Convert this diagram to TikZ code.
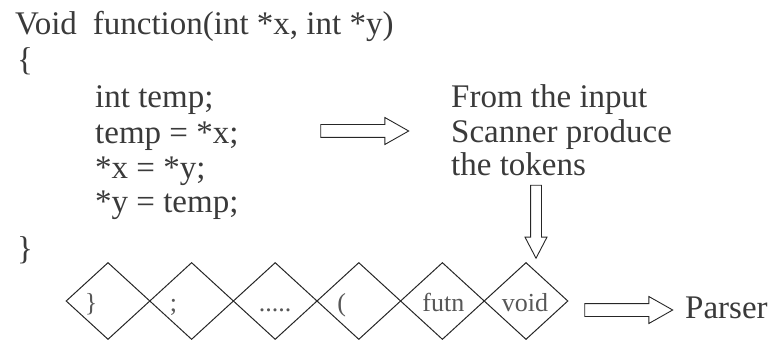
\documentclass[tikz,border=0pt]{standalone}
\usepackage{fontspec}
\setmainfont{Liberation Serif}
\usetikzlibrary{shapes.geometric,shapes.arrows}
\definecolor{ink}{HTML}{3A3A3A}
\tikzset{
  code/.style={anchor=base west,inner sep=0pt,text=ink,font=\fontsize{33}{35}\selectfont},
  tok/.style={diamond,draw=black!85,line width=1pt,minimum width=84pt,minimum height=77pt,inner sep=0pt},
  toktext/.style={anchor=base,inner sep=0pt,text=ink!85,font=\fontsize{26}{28}\selectfont},
  blockarrow/.style={single arrow,draw=black!85,line width=0.9pt,inner sep=0pt,
    inner ysep=6pt,single arrow head extend=7pt,single arrow tip angle=59}
}
\begin{document}
\begin{tikzpicture}[x=1pt,y=-1pt]
  \useasboundingbox (0,0) rectangle (770,344);
  % the source code
  \node[code] (sig) at (15,35) {Void\hspace{16pt}function(int *x, int *y)};
  \node[code] (lbrace) at (17,71) {\{};
  \node[code] (l1) at (95,108) {int temp;};
  \node[code] (l2) at (95,144) {temp = *x;};
  \node[code] (l3) at (95,179) {*x = *y;};
  \node[code] (l4) at (95,213) {*y = temp;};
  \node[code] (rbrace) at (17,260) {\}};
  % scanner note
  \node[code] (s1) at (451,108) {From the input};
  \node[code] (s2) at (451,143) {Scanner produce};
  \node[code] (s3) at (451,176) {the tokens};
  % block arrows
  \node[blockarrow,minimum height=88pt] (scanarrow) at (359,131) {};
  \node[blockarrow,minimum height=73pt,rotate=-90,inner ysep=5pt,
    single arrow head extend=5.5pt,single arrow tip angle=55] (tokarrow) at (536,216.5) {};
  \node[blockarrow,minimum height=88pt] (parsearrow) at (623,310) {};
  \node[code] (parser) at (685,318) {Parser};
  % token stream
  \foreach \i in {1,...,6}
    \node[tok] (d\i) at ({108+83.6*(\i-1)},301) {};
  \node[toktext] (t1) at ([xshift=-17pt,yshift=-11pt]d1.center) {\}};
  \node[toktext] (t2) at ([xshift=-18pt,yshift=-11pt]d2.center) {;};
  \node[toktext] (t3) at ([yshift=-11pt]d3.center) {.....};
  \node[toktext] (t4) at ([xshift=-17pt,yshift=-11pt]d4.center) {(};
  \node[toktext] (t5) at ([xshift=1pt,yshift=-11pt]d5.center) {futn};
  \node[toktext] (t6) at ([xshift=-1pt,yshift=-11pt]d6.center) {void};
\end{tikzpicture}
\end{document}
